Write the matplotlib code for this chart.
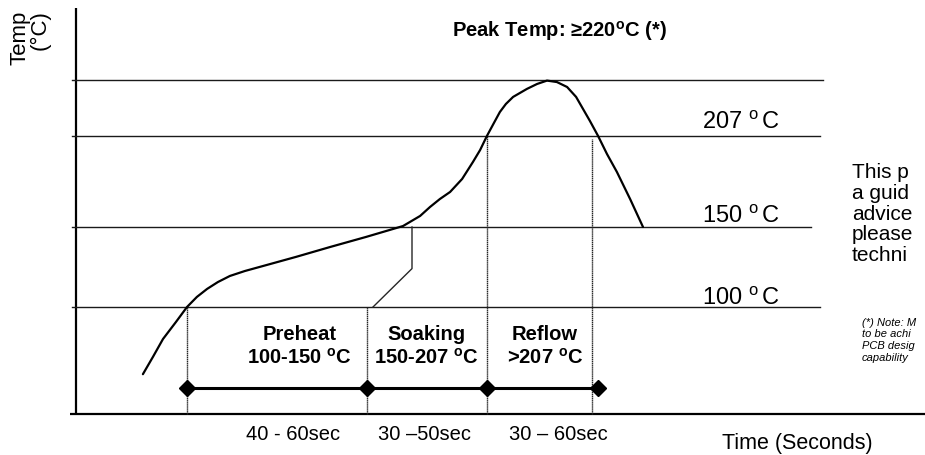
import matplotlib
matplotlib.use("Agg")
import matplotlib.pyplot as plt

plt.rcParams['font.family'] = ['Liberation Sans', 'DejaVu Sans']
plt.rcParams['mathtext.fontset'] = 'custom'
plt.rcParams['mathtext.rm'] = 'Liberation Sans'
plt.rcParams['mathtext.bf'] = 'Liberation Sans:bold'

# reflow profile (time in s, temperature in C)
profile_time = [22.3, 25.7, 29, 33.3, 37, 40.3, 43.7, 47.3, 51.3, 56.3, 62.3,
                73.3, 84.7, 96.7, 109, 114.7, 118, 121.3, 124.7, 128.7, 132.3,
                134.7, 137, 139.3, 141.3, 143.3, 145.7, 148, 150.3, 153.7, 157,
                160.3, 163.7, 166.7, 169, 171.3, 174, 177, 180.3, 184.7, 189]
profile_temp = [58, 69, 80, 90.6, 100, 106.3, 111.3, 115.6, 119.4, 122.5, 125.6,
                131.3, 137.5, 143.8, 150.6, 156.9, 162.5, 167.5, 171.9, 180, 190.6,
                198.1, 207, 215, 221.9, 226.9, 231.3, 233.8, 236.3, 239.4, 241.5,
                240.6, 237.5, 231.3, 223.8, 216.3, 207, 195.6, 184.4, 167.5, 150]

# reference temperature lines
levels = [100, 150, 207, 242]
level_ends = [248, 245, 248, 249]
level_labels = ['100 $^{\\mathrm{o}}\\,$C', '150 $^{\\mathrm{o}}\\,$C', '207 $^{\\mathrm{o}}\\,$C']
level_label_temps = [102, 153, 212]

# phase boundaries and the timing bar
boundary_times = [37, 97, 137, 172]
boundary_tops = [100, 100, 207, 205]
marker_times = [37, 97, 137, 174]
bar_temp = 49.5

phase_names = ['Preheat', 'Soaking', 'Reflow']
phase_ranges = ['100-150 $^{\\mathbf{o}}$C', '150-207 $^{\\mathbf{o}}$C', '>207 $^{\\mathbf{o}}$C']
phase_centers = [74.5, 116.7, 156.3]
durations = ['40 - 60sec', '30 \u201350sec', '30 \u2013 60sec']
duration_centers = [72.2, 116.3, 160.7]

# leader from the soak label up to the 150 C crossing
leader_time = [99, 112, 112]
leader_temp = [100, 124, 150]

side_note = ['This p', 'a guid', 'advice', 'please', 'techni']
foot_note = ['(*) Note: M', 'to be achi', 'PCB desig', 'capability']

fig = plt.figure(figsize=(9.25, 4.56), dpi=100)
ax = fig.add_axes([0, 0, 1, 1])
ax.set_xlim(-76 / 3, 849 / 3)
ax.set_ylim(7.5, 292.5)
ax.axis('off')

# axes drawn by hand, like the sketch
ax.plot([0, 0], [33, 287], color='black', lw=1.6, solid_capstyle='butt')
ax.plot([-2, 290], [33, 33], color='black', lw=1.6, solid_capstyle='butt')

for lev, end in zip(levels, level_ends):
    ax.plot([-1.5, end], [lev, lev], color='0.1', lw=1.0)

for t, top in zip(boundary_times, boundary_tops):
    ax.plot([t, t], [33, top], color='0.15', lw=1.0, ls=(0, (1, 0.4)))

ax.plot(leader_time, leader_temp, color='0.15', lw=1.0)

ax.plot(profile_time, profile_temp, color='black', lw=1.6,
        solid_joinstyle='round', solid_capstyle='round')

ax.plot(marker_times, [bar_temp] * len(marker_times), color='black', lw=2.2,
        marker='D', markersize=8)

for lab, y in zip(level_labels, level_label_temps):
    ax.text(208.5, y, lab, fontsize=17, ha='left', va='baseline')

for name, rng, x in zip(phase_names, phase_ranges, phase_centers):
    ax.text(x, 80, name, fontsize=14.5, fontweight='bold', ha='center', va='baseline')
    ax.text(x, 65, rng, fontsize=14.5, fontweight='bold', ha='center', va='baseline')

for lab, x in zip(durations, duration_centers):
    ax.text(x, 17.5, lab, fontsize=14.5, ha='center', va='baseline')

ax.text(125.3, 269.4, 'Peak Temp: \u2265220$^{\\mathbf{o}}$C (*)', fontsize=14.5,
        fontweight='bold', ha='left', va='baseline')

ax.text(215.3, 11.9, 'Time (Seconds)', fontsize=15.5, ha='left', va='baseline')

ax.text(-15.3, 286, 'Temp\n(\u00b0C)', fontsize=16, rotation=90, ha='center',
        va='top', multialignment='right', linespacing=0.9)

for i, line in enumerate(side_note):
    ax.text(258.7, 181.5 - i * 13.1, line, fontsize=15, ha='left', va='baseline')

for i, line in enumerate(foot_note):
    ax.text(262, 89 - i * 7.4, line, fontsize=8, style='italic', ha='left', va='baseline')

fig.savefig('out.png', dpi=100)
